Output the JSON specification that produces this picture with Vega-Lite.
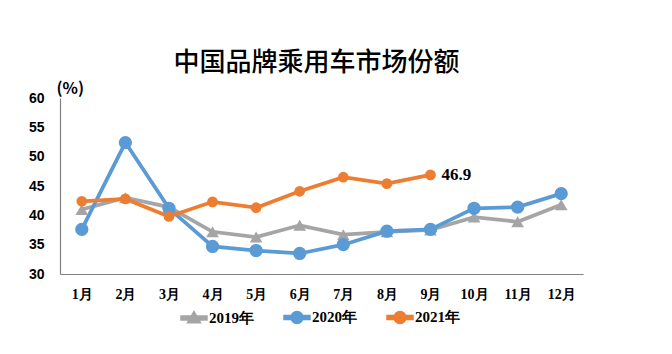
{
  "$schema": "https://vega.github.io/schema/vega-lite/v6.json",
  "width": 523,
  "height": 176,
  "autosize": {"type": "none"},
  "padding": {"left": 60, "top": 98, "right": 89, "bottom": 80},
  "background": "white",
  "config": {"view": {"stroke": null}},
  "title": {"text": "中国品牌乘用车市场份额", "font": "Noto Sans CJK SC", "fontSize": 26, "fontWeight": 500, "color": "#000000", "anchor": "middle", "frame": "group", "dx": -5, "offset": 4},
  "data": {"values": [
    {"month": "1月", "year": "2019年", "value": 41.0},
    {"month": "2月", "year": "2019年", "value": 43.0},
    {"month": "3月", "year": "2019年", "value": 41.4},
    {"month": "4月", "year": "2019年", "value": 37.2},
    {"month": "5月", "year": "2019年", "value": 36.3},
    {"month": "6月", "year": "2019年", "value": 38.3},
    {"month": "7月", "year": "2019年", "value": 36.7},
    {"month": "8月", "year": "2019年", "value": 37.2},
    {"month": "9月", "year": "2019年", "value": 37.5},
    {"month": "10月", "year": "2019年", "value": 39.7},
    {"month": "11月", "year": "2019年", "value": 38.9},
    {"month": "12月", "year": "2019年", "value": 41.8},
    {"month": "1月", "year": "2020年", "value": 37.6},
    {"month": "2月", "year": "2020年", "value": 52.4},
    {"month": "3月", "year": "2020年", "value": 41.2},
    {"month": "4月", "year": "2020年", "value": 34.7},
    {"month": "5月", "year": "2020年", "value": 34.0},
    {"month": "6月", "year": "2020年", "value": 33.5},
    {"month": "7月", "year": "2020年", "value": 35.0},
    {"month": "8月", "year": "2020年", "value": 37.3},
    {"month": "9月", "year": "2020年", "value": 37.6},
    {"month": "10月", "year": "2020年", "value": 41.2},
    {"month": "11月", "year": "2020年", "value": 41.4},
    {"month": "12月", "year": "2020年", "value": 43.7},
    {"month": "1月", "year": "2021年", "value": 42.4},
    {"month": "2月", "year": "2021年", "value": 42.8},
    {"month": "3月", "year": "2021年", "value": 39.8},
    {"month": "4月", "year": "2021年", "value": 42.3},
    {"month": "5月", "year": "2021年", "value": 41.3},
    {"month": "6月", "year": "2021年", "value": 44.1},
    {"month": "7月", "year": "2021年", "value": 46.5},
    {"month": "8月", "year": "2021年", "value": 45.4},
    {"month": "9月", "year": "2021年", "value": 46.9}
  ]},
  "encoding": {
    "x": {
      "field": "month", "type": "ordinal",
      "sort": ["1月", "2月", "3月", "4月", "5月", "6月", "7月", "8月", "9月", "10月", "11月", "12月"],
      "scale": {"type": "point", "padding": 0.5},
      "axis": {"title": null, "labelAngle": 0, "ticks": false, "grid": false, "domainColor": "#808080", "domainWidth": 1.2, "labelFont": "Liberation Serif", "labelFontWeight": "bold", "labelFontSize": 14, "labelColor": "#000000", "labelPadding": 13}
    },
    "y": {
      "field": "value", "type": "quantitative",
      "scale": {"domain": [30, 60], "nice": false, "zero": false},
      "axis": {"title": "(%)", "titleAngle": 0, "titleX": -4, "titleY": -10, "titleAlign": "left", "titleBaseline": "middle", "titleFont": "Noto Sans CJK SC", "titleFontWeight": "bold", "titleFontSize": 16, "titleColor": "#000000", "values": [30, 35, 40, 45, 50, 55, 60], "ticks": false, "grid": false, "domainColor": "#808080", "domainWidth": 1.2, "labelFont": "Liberation Sans", "labelFontWeight": "bold", "labelFontSize": 14, "labelColor": "#000000", "labelPadding": 16}
    },
    "color": {
      "field": "year", "type": "nominal",
      "scale": {"domain": ["2019年", "2020年", "2021年"], "range": ["#A5A5A5", "#5B9BD5", "#ED7D31"]},
      "legend": {
        "orient": "none", "legendX": 125, "legendY": 210, "direction": "horizontal", "title": null,
        "symbolSize": 264, "labelFont": "Liberation Serif", "labelFontWeight": "bold", "labelFontSize": 15, "labelColor": "#000000", "labelOffset": 6, "columnPadding": 27,
        "encode": {"symbols": {"update": {
          "shape": {"signal": "datum.value === '2019年' ? 'M-1.6,-0.25H1.6V0.25H-1.6Z M0,-0.8L0.8,0.6L-0.8,0.6Z' : 'M-1.6,-0.25H1.6V0.25H-1.6Z M0.74,0A0.74,0.74,0,1,1,-0.74,0A0.74,0.74,0,1,1,0.74,0Z'"},
          "fill": {"scale": "color", "field": "value"},
          "stroke": {"value": "transparent"},
          "opacity": {"value": 1},
          "fillOpacity": {"value": 1}
        }}}
      }
    }
  },
  "layer": [
    {"mark": {"type": "line", "strokeWidth": 3.75}},
    {
      "transform": [{"filter": "datum.year === '2019年'"}],
      "mark": {"type": "point", "shape": "triangle-up", "filled": true, "opacity": 1, "size": 160}
    },
    {
      "transform": [{"filter": "datum.year === '2020年'"}],
      "mark": {"type": "point", "shape": "circle", "filled": true, "opacity": 1, "size": 177}
    },
    {
      "transform": [{"filter": "datum.year === '2021年'"}],
      "mark": {"type": "point", "shape": "circle", "filled": true, "opacity": 1, "size": 115}
    },
    {
      "transform": [{"filter": "datum.year === '2021年' && datum.month === '9月'"}],
      "mark": {"type": "text", "align": "left", "baseline": "middle", "dx": 11, "font": "Liberation Serif", "fontWeight": "bold", "fontSize": 17},
      "encoding": {"text": {"field": "value", "type": "quantitative", "format": ".1f"}, "color": {"value": "#000000"}}
    }
  ]
}
